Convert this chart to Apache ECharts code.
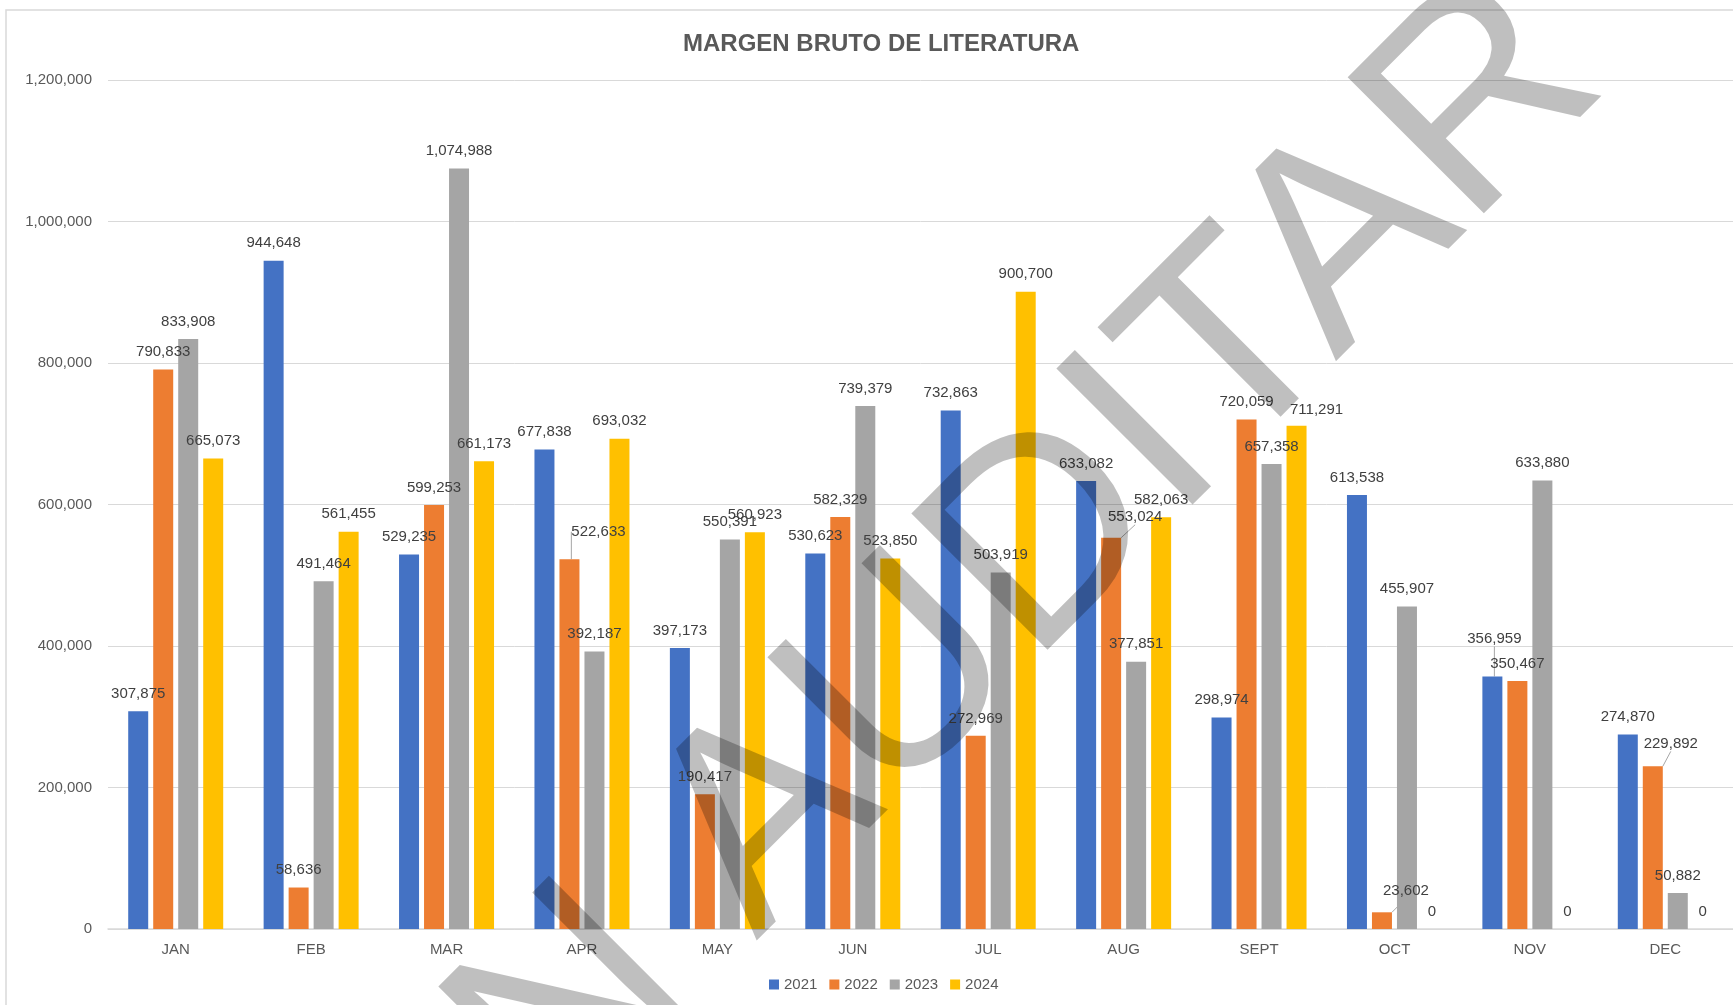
<!DOCTYPE html>
<html>
<head>
<meta charset="utf-8">
<script src="https://cdn.jsdelivr.net/npm/echarts@6/dist/echarts.min.js"></script>
<style>
  html, body { margin: 0; padding: 0; background: #fff; }
  #chart { width: 1733px; height: 1005px; }
</style>
</head>
<body>
<div id="chart"></div>
<script>
// months and series values
const months = ['JAN', 'FEB', 'MAR', 'APR', 'MAY', 'JUN', 'JUL', 'AUG', 'SEPT', 'OCT', 'NOV', 'DEC'];
const years = ['2021', '2022', '2023', '2024'];
const y2021 = [307875, 944648, 529235, 677838, 397173, 530623, 732863, 633082, 298974, 613538, 356959, 274870];
const y2022 = [790833, 58636, 599253, 522633, 190417, 582329, 272969, 553024, 720059, 23602, 350467, 229892];
const y2023 = [833908, 491464, 1074988, 392187, 550391, 739379, 503919, 377851, 657358, 455907, 633880, 50882];
const y2024 = [665073, 561455, 661173, 693032, 560923, 523850, 900700, 582063, 711291, 0, 0, 0];
const yTicks = [0, 200000, 400000, 600000, 800000, 1000000, 1200000];
const colors = ['#4472C4', '#ED7D31', '#A5A5A5', '#FFC000'];

// labels that were dragged aside in the original (series-index -> [dx, dy])
const moved = {
  '1-3': [29, -10],
  '1-7': [24, -3],
  '3-8': [20, 2],
  '1-9': [24, -4],
  '0-10': [2, -20],
  '1-11': [18, -5]
};
const noLine = { '3-8': true };

const font = '"Liberation Sans", Arial, sans-serif';
const fmt = v => Number(v).toLocaleString('en-US');

const allSeries = [y2021, y2022, y2023, y2024].map((vals, si) => ({
  name: years[si],
  type: 'bar',
  barWidth: 20,
  barGap: '25%',
  itemStyle: { color: colors[si] },
  label: {
    show: true,
    position: 'top',
    distance: 10,
    fontFamily: font,
    fontSize: 15,
    color: '#404040',
    formatter: p => fmt(p.value)
  },
  labelLine: { show: false, lineStyle: { color: '#a6a6a6', width: 1 } },
  labelLayout: p => {
    const o = moved[p.seriesIndex + '-' + p.dataIndex];
    return o ? { dx: o[0], dy: o[1] } : {};
  },
  data: vals.map((v, di) => {
    const k = si + '-' + di;
    if (moved[k] && !noLine[k]) {
      return { value: v, labelLine: { show: true, lineStyle: { color: '#a6a6a6', width: 1 } } };
    }
    return v;
  })
}));

const chart = echarts.init(document.getElementById('chart'));
chart.setOption({
  backgroundColor: '#fff',
  animation: false,
  textStyle: { fontFamily: font },
  title: {
    text: 'MARGEN BRUTO DE LITERATURA',
    left: 678,
    top: 27,
    textStyle: { fontFamily: font, fontSize: 24, fontWeight: 'bold', color: '#595959' }
  },
  legend: {
    data: years,
    left: 764,
    top: 972,
    icon: 'rect',
    itemWidth: 10,
    itemHeight: 10,
    itemGap: 12,
    textStyle: { fontFamily: font, fontSize: 15, color: '#595959' }
  },
  grid: { left: 108, right: 0, top: 80, bottom: 76 },
  xAxis: {
    type: 'category',
    data: months,
    axisTick: { show: false },
    axisLine: { lineStyle: { color: '#d9d9d9', width: 1.5 } },
    axisLabel: { fontFamily: font, fontSize: 15, color: '#595959', margin: 13 }
  },
  yAxis: {
    type: 'value',
    min: yTicks[0],
    max: yTicks[yTicks.length - 1],
    interval: yTicks[1] - yTicks[0],
    axisLine: { show: false },
    axisTick: { show: false },
    splitLine: { lineStyle: { color: '#d9d9d9', width: 1 } },
    axisLabel: { fontFamily: font, fontSize: 15, color: '#595959', margin: 16, formatter: v => fmt(v) }
  },
  series: allSeries,
  graphic: [
    {
      type: 'rect',
      silent: true,
      z: -1,
      shape: { x: 6, y: 10, width: 1800, height: 1100 },
      style: { fill: 'none', stroke: '#d9d9d9', lineWidth: 1.5 }
    },
    {
      // watermark across the plot
      type: 'text',
      silent: true,
      z: 100,
      x: 1556,
      y: 32,
      rotation: Math.PI / 4,
      style: {
        text: 'SIN AUDITAR',
        font: 'normal 280px "Liberation Sans", Arial, sans-serif',
        fill: 'rgba(0,0,0,0.25)',
        textAlign: 'right',
        textVerticalAlign: 'middle'
      }
    }
  ]
});
</script>
</body>
</html>
